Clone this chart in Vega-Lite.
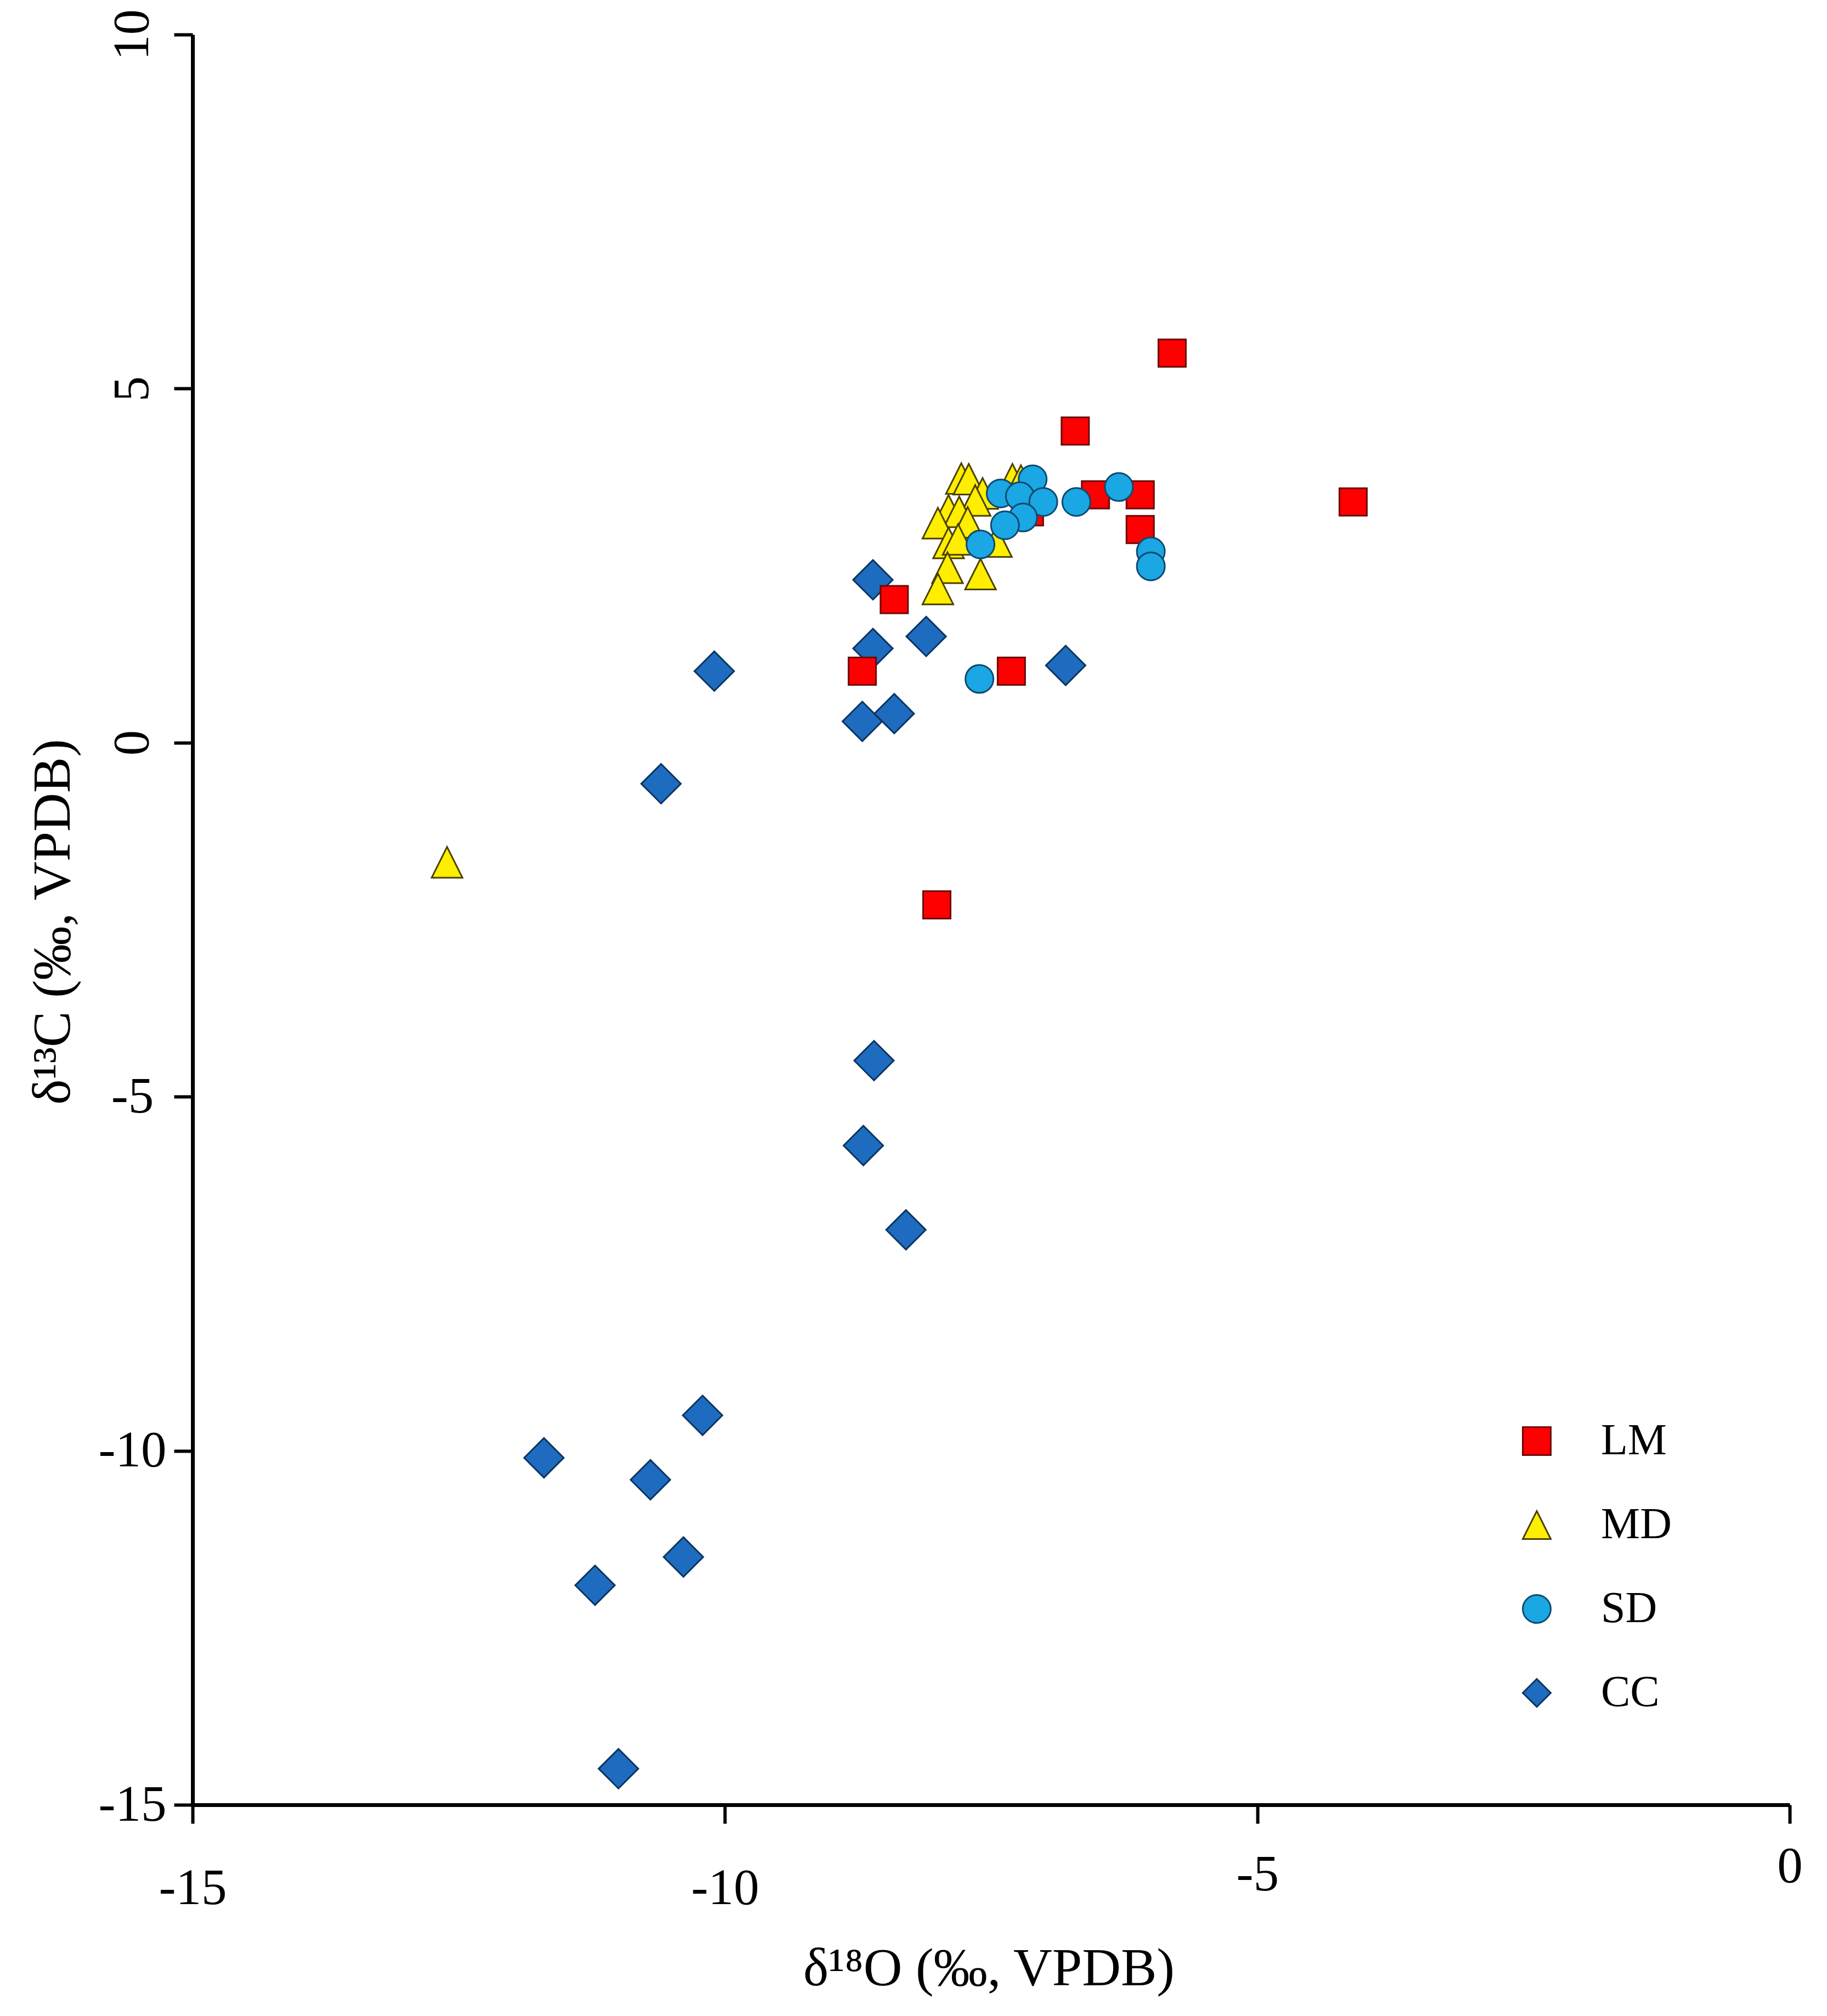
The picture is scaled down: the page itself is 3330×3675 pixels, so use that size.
{
  "$schema": "https://vega.github.io/schema/vega-lite/v6.json",
  "width": 2911,
  "height": 3227,
  "autosize": {"type": "none"},
  "padding": {"left": 351, "top": 63, "right": 68, "bottom": 385},
  "background": "#ffffff",
  "config": {
    "view": {"stroke": null},
    "axis": {
      "domainColor": "#000000",
      "domainWidth": 7,
      "tickColor": "#000000",
      "tickWidth": 6,
      "tickSize": 34,
      "grid": false,
      "labelFont": "Liberation Serif",
      "labelFontSize": 93,
      "labelColor": "#000000",
      "labelFlush": false,
      "labelOverlap": false,
      "titleFont": "Liberation Serif",
      "titleFontSize": 98,
      "titleFontWeight": "normal",
      "titleColor": "#000000"
    },
    "legend": {
      "labelFont": "Liberation Serif",
      "labelFontSize": 80,
      "labelColor": "#000000"
    }
  },
  "datasets": {
    "pts": [
      {"group": "CC", "d18O": -8.61, "d13C": 2.30},
      {"group": "CC", "d18O": -8.61, "d13C": 1.33},
      {"group": "CC", "d18O": -8.11, "d13C": 1.50},
      {"group": "CC", "d18O": -10.10, "d13C": 1.01},
      {"group": "CC", "d18O": -6.80, "d13C": 1.09},
      {"group": "CC", "d18O": -8.71, "d13C": 0.30},
      {"group": "CC", "d18O": -8.41, "d13C": 0.41},
      {"group": "CC", "d18O": -10.60, "d13C": -0.58},
      {"group": "CC", "d18O": -8.60, "d13C": -4.49},
      {"group": "CC", "d18O": -8.70, "d13C": -5.69},
      {"group": "CC", "d18O": -8.30, "d13C": -6.88},
      {"group": "CC", "d18O": -10.21, "d13C": -9.50},
      {"group": "CC", "d18O": -11.70, "d13C": -10.10},
      {"group": "CC", "d18O": -10.70, "d13C": -10.41},
      {"group": "CC", "d18O": -10.39, "d13C": -11.50},
      {"group": "CC", "d18O": -11.22, "d13C": -11.90},
      {"group": "CC", "d18O": -11.00, "d13C": -14.49},
      {"group": "LM", "d18O": -5.80, "d13C": 5.50},
      {"group": "LM", "d18O": -6.71, "d13C": 4.40},
      {"group": "LM", "d18O": -6.52, "d13C": 3.50},
      {"group": "LM", "d18O": -6.10, "d13C": 3.50},
      {"group": "LM", "d18O": -6.10, "d13C": 3.01},
      {"group": "LM", "d18O": -4.10, "d13C": 3.40},
      {"group": "LM", "d18O": -7.14, "d13C": 3.26},
      {"group": "LM", "d18O": -8.41, "d13C": 2.02},
      {"group": "LM", "d18O": -8.71, "d13C": 1.01},
      {"group": "LM", "d18O": -7.31, "d13C": 1.01},
      {"group": "LM", "d18O": -8.01, "d13C": -2.29},
      {"group": "MD", "d18O": -7.78, "d13C": 3.73},
      {"group": "MD", "d18O": -7.71, "d13C": 3.72},
      {"group": "MD", "d18O": -7.30, "d13C": 3.72},
      {"group": "MD", "d18O": -7.22, "d13C": 3.70},
      {"group": "MD", "d18O": -7.58, "d13C": 3.52},
      {"group": "MD", "d18O": -7.65, "d13C": 3.42},
      {"group": "MD", "d18O": -7.90, "d13C": 3.28},
      {"group": "MD", "d18O": -7.80, "d13C": 3.26},
      {"group": "MD", "d18O": -8.00, "d13C": 3.10},
      {"group": "MD", "d18O": -7.72, "d13C": 3.11},
      {"group": "MD", "d18O": -7.90, "d13C": 2.82},
      {"group": "MD", "d18O": -7.81, "d13C": 2.87},
      {"group": "MD", "d18O": -7.45, "d13C": 2.84},
      {"group": "MD", "d18O": -7.91, "d13C": 2.47},
      {"group": "MD", "d18O": -7.60, "d13C": 2.38},
      {"group": "MD", "d18O": -8.00, "d13C": 2.17},
      {"group": "MD", "d18O": -12.61, "d13C": -1.69},
      {"group": "SD", "d18O": -7.41, "d13C": 3.52},
      {"group": "SD", "d18O": -7.11, "d13C": 3.72},
      {"group": "SD", "d18O": -7.23, "d13C": 3.48},
      {"group": "SD", "d18O": -7.01, "d13C": 3.40},
      {"group": "SD", "d18O": -7.20, "d13C": 3.18},
      {"group": "SD", "d18O": -7.37, "d13C": 3.07},
      {"group": "SD", "d18O": -7.60, "d13C": 2.80},
      {"group": "SD", "d18O": -6.70, "d13C": 3.40},
      {"group": "SD", "d18O": -6.30, "d13C": 3.61},
      {"group": "SD", "d18O": -6.00, "d13C": 2.70},
      {"group": "SD", "d18O": -6.00, "d13C": 2.49},
      {"group": "SD", "d18O": -7.61, "d13C": 0.90}
    ]
  },
  "data": {"name": "pts"},
  "encoding": {
    "x": {
      "field": "d18O",
      "type": "quantitative",
      "scale": {"domain": [-15, 0], "nice": false, "zero": false},
      "axis": {
        "title": "δ¹⁸O (‰, VPDB)",
        "values": [-15, -10, -5, 0],
        "labelExpr": "'' + datum.value",
        "labelAlign": "center",
        "labelBaseline": "alphabetic",
        "labelPadding": {"condition": [{"test": "datum.value == 0", "value": 106}, {"test": "datum.value == -5", "value": 121}], "value": 146},
        "titleX": 1451,
        "titleY": 328,
        "titleAlign": "center",
        "titleBaseline": "alphabetic"
      }
    },
    "y": {
      "field": "d13C",
      "type": "quantitative",
      "scale": {"domain": [-15, 10], "nice": false, "zero": false},
      "axis": {
        "title": "δ¹³C (‰, VPDB)",
        "values": [-15, -10, -5, 0, 5, 10],
        "labelExpr": "'' + datum.value",
        "labelAngle": {"expr": "datum.value >= 0 ? -90 : 0"},
        "labelAlign": "center",
        "labelBaseline": "middle",
        "labelPadding": 76,
        "titleX": -225,
        "titleY": 1617,
        "titleAngle": 270,
        "titleAlign": "center",
        "titleBaseline": "alphabetic"
      }
    },
    "fill": {
      "field": "group",
      "type": "nominal",
      "scale": {"domain": ["LM", "MD", "SD", "CC"], "range": ["#ff0000", "#ffee00", "#1aa7e3", "#1d6cbf"]},
      "legend": {
        "title": null,
        "orient": "none",
        "legendX": 2410,
        "legendY": 2524,
        "padding": 0,
        "symbolSize": 2600,
        "symbolStrokeWidth": 3,
        "rowPadding": 73,
        "labelOffset": 77
      }
    },
    "stroke": {
      "field": "group",
      "type": "nominal",
      "scale": {"domain": ["LM", "MD", "SD", "CC"], "range": ["#6b0a0a", "#4a4000", "#0e4a70", "#0c3560"]},
      "legend": {
        "title": null,
        "orient": "none",
        "legendX": 2410,
        "legendY": 2524,
        "padding": 0,
        "symbolSize": 2600,
        "symbolStrokeWidth": 3,
        "rowPadding": 73,
        "labelOffset": 77
      }
    },
    "shape": {
      "field": "group",
      "type": "nominal",
      "scale": {"domain": ["LM", "MD", "SD", "CC"], "range": ["square", "M0,-1L1,1L-1,1Z", "circle", "diamond"]},
      "legend": {
        "title": null,
        "orient": "none",
        "legendX": 2410,
        "legendY": 2524,
        "padding": 0,
        "symbolSize": 2600,
        "symbolStrokeWidth": 3,
        "rowPadding": 73,
        "labelOffset": 77
      }
    }
  },
  "layer": [
    {
      "transform": [{"filter": "datum.group == 'CC'"}],
      "mark": {"type": "point", "filled": true, "size": 5200, "strokeWidth": 3, "opacity": 1}
    },
    {
      "transform": [{"filter": "datum.group == 'LM'"}],
      "mark": {"type": "point", "filled": true, "size": 2500, "strokeWidth": 3, "opacity": 1}
    },
    {
      "transform": [{"filter": "datum.group == 'MD'"}],
      "mark": {"type": "point", "filled": true, "size": 3136, "strokeWidth": 3, "opacity": 1}
    },
    {
      "transform": [{"filter": "datum.group == 'SD'"}],
      "mark": {"type": "point", "filled": true, "size": 2600, "strokeWidth": 3, "opacity": 1}
    }
  ]
}
